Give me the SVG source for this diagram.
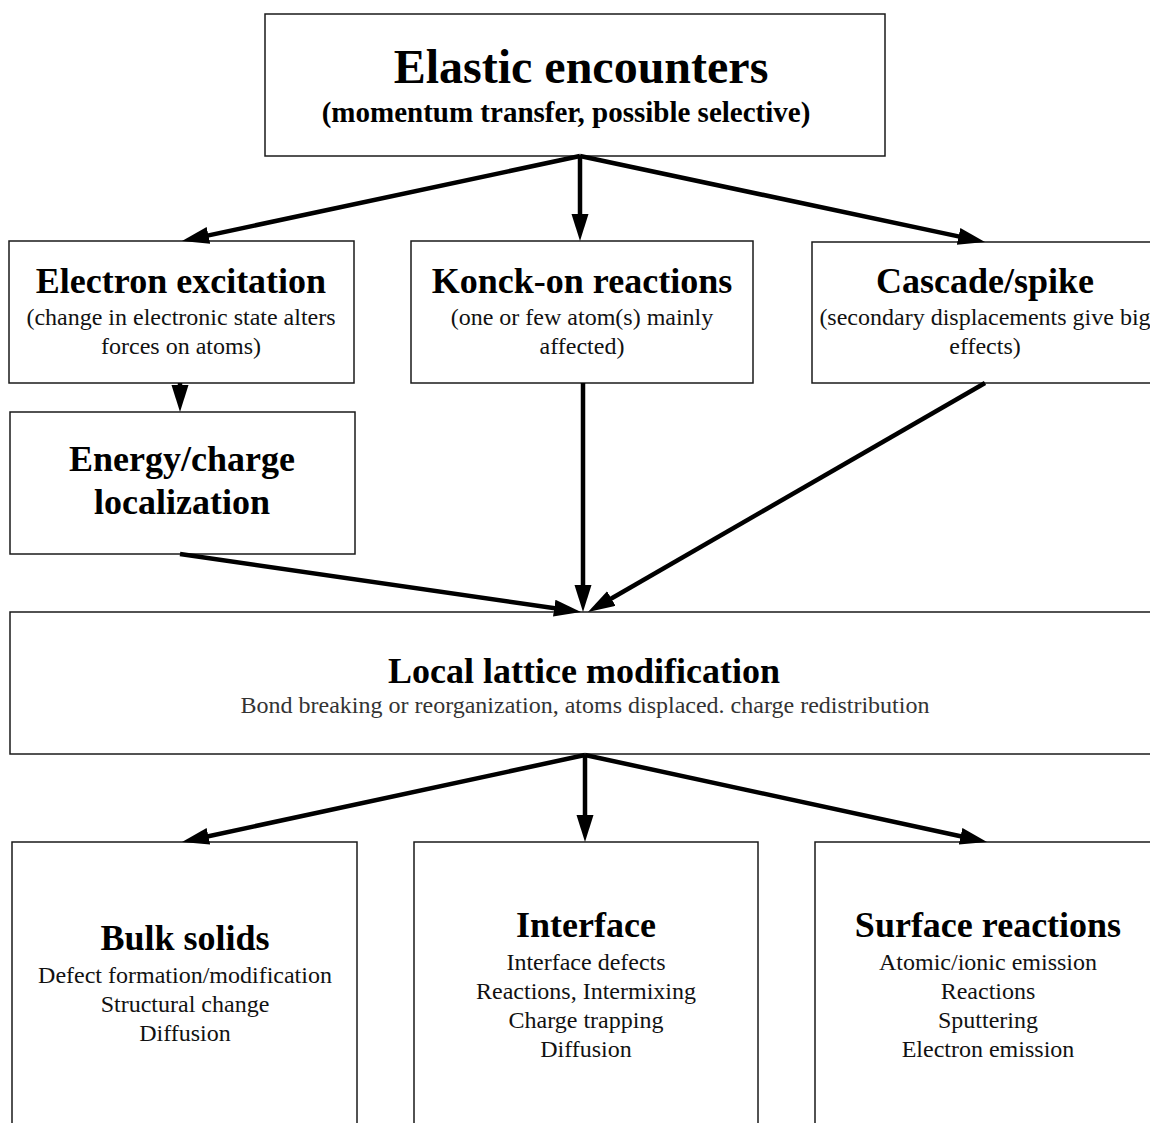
<svg xmlns="http://www.w3.org/2000/svg" width="1150" height="1123" viewBox="0 0 1150 1123">
  <style>
    .box { fill: #fff; stroke: #1a1a1a; stroke-width: 1.5; }
    .title { font-family: "Liberation Serif", "Times New Roman", serif; font-weight: bold; font-size: 36px; fill: #000; text-anchor: middle; }
    .sub { font-family: "Liberation Serif", "Times New Roman", serif; font-size: 24px; fill: #111; text-anchor: middle; }
    .edge { stroke: #000; stroke-width: 4.5; fill: none; marker-end: url(#head); }
  </style>
  <defs>
    <marker id="head" markerUnits="userSpaceOnUse" markerWidth="30" markerHeight="20" refX="13" refY="8.5" orient="auto">
      <path d="M0,0 L27,8.5 L0,17 Z" fill="#000"/>
    </marker>
  </defs>
  <rect width="1150" height="1123" fill="#fff"/>

  <g id="elastic">
    <rect class="box" x="265" y="14" width="620" height="142"/>
    <text class="title" x="581" y="83" style="font-size:48px">Elastic encounters</text>
    <text class="title" x="566" y="122" style="font-size:29px">(momentum transfer, possible selective)</text>
  </g>

  <g id="electron">
    <rect class="box" x="9" y="241" width="345" height="142"/>
    <text class="title" x="181" y="293">Electron excitation</text>
    <text class="sub" x="181" y="325">(change in electronic state alters</text>
    <text class="sub" x="181" y="354">forces on atoms)</text>
  </g>

  <g id="knockon">
    <rect class="box" x="411" y="241" width="342" height="142"/>
    <text class="title" x="582" y="293">Konck-on reactions</text>
    <text class="sub" x="582" y="325">(one or few atom(s) mainly</text>
    <text class="sub" x="582" y="354">affected)</text>
  </g>

  <g id="cascade">
    <rect class="box" x="812" y="242" width="346" height="141"/>
    <text class="title" x="985" y="293">Cascade/spike</text>
    <text class="sub" x="985" y="325">(secondary displacements give big</text>
    <text class="sub" x="985" y="354">effects)</text>
  </g>

  <g id="energy">
    <rect class="box" x="10" y="412" width="345" height="142"/>
    <text class="title" x="182" y="471">Energy/charge</text>
    <text class="title" x="182" y="514">localization</text>
  </g>

  <g id="lattice">
    <rect class="box" x="10" y="612" width="1150" height="142"/>
    <text class="title" x="584" y="683">Local lattice modification</text>
    <text class="sub" x="585" y="713" style="fill:#333">Bond breaking or reorganization, atoms displaced. charge redistribution</text>
  </g>

  <g id="bulk">
    <rect class="box" x="12" y="842" width="345" height="300"/>
    <text class="title" x="185" y="950">Bulk solids</text>
    <text class="sub" x="185" y="983">Defect formation/modification</text>
    <text class="sub" x="185" y="1012">Structural change</text>
    <text class="sub" x="185" y="1041">Diffusion</text>
  </g>

  <g id="interface">
    <rect class="box" x="414" y="842" width="344" height="300"/>
    <text class="title" x="586" y="937">Interface</text>
    <text class="sub" x="586" y="970">Interface defects</text>
    <text class="sub" x="586" y="999">Reactions, Intermixing</text>
    <text class="sub" x="586" y="1028">Charge trapping</text>
    <text class="sub" x="586" y="1057">Diffusion</text>
  </g>

  <g id="surface">
    <rect class="box" x="815" y="842" width="345" height="300"/>
    <text class="title" x="988" y="937">Surface reactions</text>
    <text class="sub" x="988" y="970">Atomic/ionic emission</text>
    <text class="sub" x="988" y="999">Reactions</text>
    <text class="sub" x="988" y="1028">Sputtering</text>
    <text class="sub" x="988" y="1057">Electron emission</text>
  </g>

  <g id="connectors">
    <line class="edge" x1="580" y1="156" x2="195.7" y2="238.1"/>
    <line class="edge" x1="580" y1="156" x2="580" y2="227"/>
    <line class="edge" x1="580" y1="156" x2="971.3" y2="239.1"/>
    <line class="edge" x1="180" y1="383" x2="180" y2="398"/>
    <line class="edge" x1="180" y1="554" x2="567.1" y2="610"/>
    <line class="edge" x1="583" y1="383" x2="583" y2="598"/>
    <line class="edge" x1="985" y1="383" x2="600.1" y2="605"/>
    <line class="edge" x1="585" y1="755" x2="195.7" y2="839"/>
    <line class="edge" x1="585" y1="755" x2="585" y2="828"/>
    <line class="edge" x1="585" y1="755" x2="973.3" y2="839"/>
  </g>
</svg>
